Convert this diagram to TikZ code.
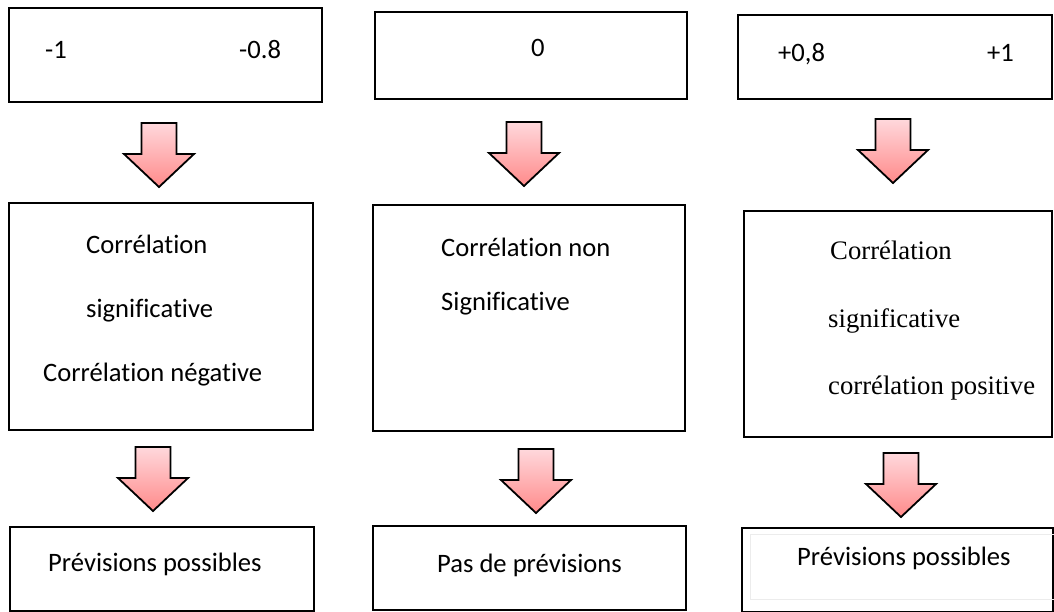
\documentclass[tikz,border=0pt]{standalone}
\usepackage{fontspec}
\setmainfont{Carlito}[Ligatures=NoCommon]
\newfontfamily\serifface{Liberation Serif}
\definecolor{arrowtop}{RGB}{255,216,220}
\definecolor{arrowbot}{RGB}{255,138,138}
\definecolor{innerline}{RGB}{236,236,236}
\begin{document}
\begin{tikzpicture}[x=1pt,y=-1pt,
  box/.style={draw=black, line width=2.4pt, fill=white, anchor=north west, inner sep=0pt},
  lbl/.style={anchor=base west, inner sep=0pt, font=\fontsize{26.6}{30}\selectfont},
  slbl/.style={anchor=base west, inner sep=0pt, font=\serifface\fontsize{26.7}{30}\selectfont},
  downarrow/.style={draw=black, line width=1.8pt, line join=miter, top color=arrowtop, bottom color=arrowbot}]
\useasboundingbox (0,0) rectangle (1054,611);

% block arrow: #1 centre x, #2 top y
\newcommand\blockarrow[2]{%
  \path[downarrow] (#1-17.5,#2) -- (#1+17.5,#2) -- (#1+17.5,#2+31)
    -- (#1+35,#2+31) -- (#1,#2+64) -- (#1-35,#2+31) -- (#1-17.5,#2+31) -- cycle;}

% top row: ranges of r
\node[box, minimum width=313pt, minimum height=94pt] (rneg) at (8,7) {};
\node[box, minimum width=312pt, minimum height=87pt] (rzero) at (374,11) {};
\node[box, minimum width=314pt, minimum height=84pt] (rpos) at (737,14) {};
\node[lbl] (tn1) at (45,58) {-1};
\node[lbl] (tn2) at (239,58) {-0.8};
\node[lbl] (tz) at (531,56) {0};
\node[lbl] (tp1) at (778,61) {+0,8};
\node[lbl] (tp2) at (987,61) {+1};

% first arrows
\blockarrow{159}{123}
\blockarrow{524}{122}
\blockarrow{893}{119}

% middle row: interpretation
\node[box, minimum width=304pt, minimum height=227pt] (signeg) at (8,202) {};
\node[box, minimum width=312pt, minimum height=226pt] (nonsig) at (372,204) {};
\node[box, minimum width=308pt, minimum height=226pt] (sigpos) at (743,210) {};
\node[lbl] (c1a) at (86,253) {Corrélation};
\node[lbl] (c1b) at (86,317) {significative};
\node[lbl] (c1c) at (43,381) {Corrélation négative};
\node[lbl] (c2a) at (441,256) {Corrélation non};
\node[lbl] (c2b) at (441,310) {Significative};
\node[slbl] (c3a) at (830,259) {Corrélation};
\node[slbl] (c3b) at (828,327) {significative};
\node[slbl] (c3c) at (828,394) {corrélation positive};

% second arrows
\blockarrow{153}{447}
\blockarrow{536}{449}
\blockarrow{901}{453}

% bottom row: forecasts
\node[box, minimum width=304pt, minimum height=84pt] (fneg) at (9,526) {};
\node[box, minimum width=313pt, minimum height=84pt] (fzero) at (372,525) {};
\node[box, minimum width=311pt, minimum height=84pt] (fpos) at (741,527) {};
\draw[innerline, line width=1pt] (750,534) rectangle (1060,599);
\node[lbl] (b1) at (48,571) {Prévisions possibles};
\node[lbl] (b2) at (437,572) {Pas de prévisions};
\node[lbl] (b3) at (797,565) {Prévisions possibles};
\end{tikzpicture}
\end{document}
